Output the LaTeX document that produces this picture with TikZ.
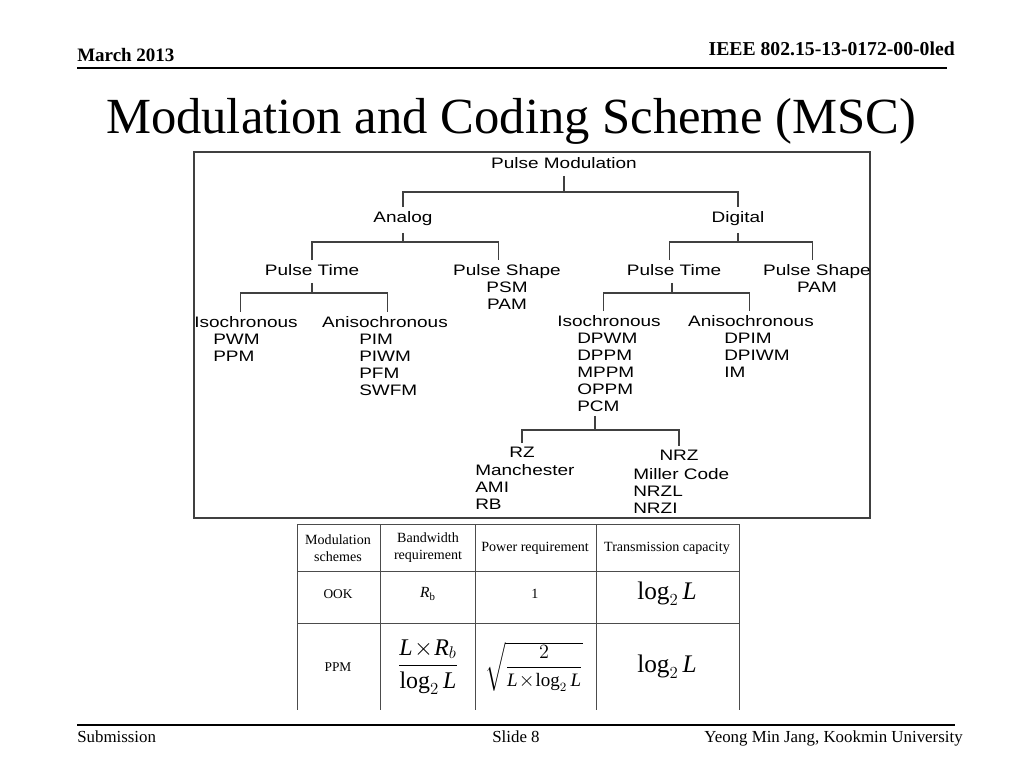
\documentclass[tikz,border=0pt]{standalone}
\usepackage{amsmath}
\usepackage{fontspec}
\setmainfont{Liberation Serif}
\newfontfamily\treefont[FakeStretch=1.25]{Liberation Sans}
\usetikzlibrary{calc, positioning}
\newcommand{\logL}{\log_2 \mathit{L}}

\begin{document}
\begin{tikzpicture}[
    x=0.025cm, y=-0.025cm,
    % Styles
    tnode/.style={font=\treefont\fontsize{10.8}{12}\selectfont, inner sep=3pt, anchor=north, align=center},
    tlist/.style={font=\treefont\fontsize{10.8}{12}\selectfont, inner sep=0pt, anchor=north west, align=left},
    branch/.style={draw=black!75, line width=0.8pt},
    stem/.style={branch, shorten <=2pt},
    cell/.style={font=\fontsize{10}{12}\selectfont, align=center, inner sep=1pt},
    bigcell/.style={font=\fontsize{18}{20}\selectfont, inner sep=1pt},
    grid/.style={draw=black!70, line width=0.6pt},
    rule/.style={line width=1.4pt},
    footer/.style={font=\fontsize{12}{14}\selectfont, inner sep=0pt}
]
\useasboundingbox (0,0) rectangle (1024,768);

% 1. HEADER
\node[font=\bfseries\fontsize{13.5}{15}\selectfont, anchor=base west, inner sep=0pt] (date) at (77,62) {March 2013};
\node[font=\bfseries\fontsize{14}{16}\selectfont, anchor=base east, inner sep=0pt] (docid) at (955,56) {IEEE 802.15-13-0172-00-0led};
\draw[rule] (77,68) -- (947,68);
\node[font=\fontsize{36}{40}\selectfont, anchor=base, inner sep=0pt] (title) at (511,134) {Modulation and Coding Scheme (MSC)};

% 2. TREE FRAME
\draw[draw=black!75, line width=1.3pt] (194,152) rectangle (870,518);

% 3. TREE NODES
\node[tnode] (pm) at (564,153) {Pulse Modulation};

\node[tnode] (ana) at (403,207) {Analog};
\node[tnode] (dig) at (738,207) {Digital};

\node[tnode] (ptA) at (312,260) {Pulse Time};
\node[tnode] (psA) at (507,260) {Pulse Shape\\PSM\\PAM};
\node[tnode] (ptD) at (674,260) {Pulse Time};
\node[tnode] (psD) at (817,260) {Pulse Shape\\PAM};

\node[tnode] (isoA) at (246,312) {Isochronous};
\node[tlist] (pwm) at (213,334) {PWM\\PPM};
\node[tnode] (aniA) at (385,312) {Anisochronous};
\node[tlist] (pim) at (359,334) {PIM\\PIWM\\PFM\\SWFM};

\node[tnode] (isoD) at (609,311) {Isochronous};
\node[tlist] (dpwm) at (577,333) {DPWM\\DPPM\\MPPM\\OPPM\\PCM};
\node[tnode] (aniD) at (751,311) {Anisochronous};
\node[tlist] (dpim) at (724,333) {DPIM\\DPIWM\\IM};

\node[tnode] (rz) at (522,443) {RZ};
\node[tlist] (manch) at (475,464) {Manchester\\AMI\\RB};
\node[tnode] (nrz) at (679,446) {NRZ};
\node[tlist] (miller) at (633,468) {Miller Code\\NRZL\\NRZI};

% junctions
\coordinate (pm_j) at (564,192);
\coordinate (ana_j) at (403,242);
\coordinate (dig_j) at (738,242);
\coordinate (ptA_j) at (312,293);
\coordinate (ptD_j) at (672,293);
\coordinate (pcm_j) at (595,430);

% 4. TREE BRANCHES
\draw[stem] (pm) -- (pm_j);
\draw[branch] (ana) |- (pm_j) -| (dig);

\draw[stem] (ana) -- (ana_j);
\draw[branch] (ptA) |- (ana_j) -| ([xshift=-6pt]psA.north);
\draw[stem] (dig) -- (dig_j);
\draw[branch] ([xshift=-3pt]ptD.north) |- (dig_j) -| ([xshift=-3pt]psD.north);

\draw[stem] (ptA) -- (ptA_j);
\draw[branch] ([xshift=-4pt]isoA.north) |- (ptA_j) -| ([xshift=2pt]aniA.north);
\draw[stem] (ptD_j |- ptD.south) -- (ptD_j);
\draw[branch] ([xshift=-4pt]isoD.north) |- (ptD_j) -| ([xshift=-1pt]aniD.north);

\draw[stem, shorten <=3pt] (pcm_j |- dpwm.south) -- (pcm_j);
\draw[branch] (rz) |- (pcm_j) -| (nrz);

% 5. TABLE
\foreach \x in {297,380,475,596,739}
    \draw[grid] (\x,524) -- (\x,710);
\foreach \y in {524,571,623}
    \draw[grid] (297,\y) -- (739,\y);

\node[cell] (h_mod) at (338,548) {Modulation\\schemes};
\node[cell] (h_bw) at (428,548) {Bandwidth\\requirement};
\node[cell] (h_pow) at (535,548) {Power requirement};
\node[cell] (h_cap) at (667,548) {Transmission capacity};

\node[cell, font=\fontsize{9.5}{11}\selectfont] (ook) at (338,594) {OOK};
\node[cell, font=\fontsize{11}{12}\selectfont] (ook_bw) at (428,594) {$\mathit{R}_\mathrm{b}$};
\node[cell] (ook_pow) at (535,594) {1};
\node[bigcell] (ook_cap) at (667,594) {$\logL$};

\node[cell, font=\fontsize{9.5}{11}\selectfont] (ppm) at (338,667) {PPM};
\node[bigcell, font=\fontsize{17}{20}\selectfont] (ppm_bw) at (428,667) {$\dfrac{\mathit{L}\!\times\! \mathit{R}_b}{\logL}$};
\node[bigcell, font=\fontsize{13.5}{16}\selectfont] (ppm_pow) at (534,667) {$\sqrt{\dfrac{2}{\mathit{L}\!\times\!\logL}}$};
\node[bigcell] (ppm_cap) at (667,667) {$\logL$};

% 6. FOOTER
\draw[rule] (77,725) -- (955,725);
\node[footer, anchor=base west] (sub) at (77,742) {Submission};
\node[footer, anchor=base] (slide) at (516,742) {Slide 8};
\node[footer, anchor=base east] (author) at (963,742) {Yeong Min Jang, Kookmin University};

\end{tikzpicture}
\end{document}
